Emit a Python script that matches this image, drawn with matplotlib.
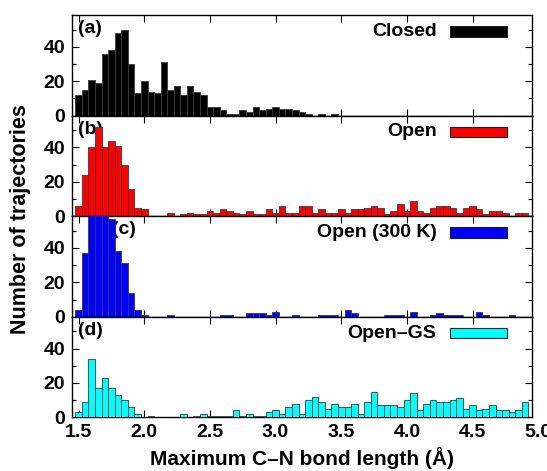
import numpy as np
import matplotlib
matplotlib.use("Agg")
import matplotlib.pyplot as plt
from matplotlib.patches import Rectangle
from matplotlib.transforms import offset_copy

plt.rcParams['font.family'] = ['Liberation Sans', 'DejaVu Sans']
plt.rcParams['font.weight'] = 'bold'

# bin centres (Å), bin width 0.05
bins = np.linspace(1.50, 4.90, 69)
width = 0.05

closed = [12, 15, 21, 19, 36, 38, 48, 50, 30, 13, 20, 14, 13, 31, 15, 17, 12, 17, 14, 12,
          5, 5, 3, 1, 1, 3, 2, 5, 3, 4, 5, 4, 4, 3, 2, 1, 0, 1, 0, 1,
          0, 0, 0, 0, 0, 0, 0, 0, 0, 0, 0, 0, 0, 0, 0, 0, 0, 0, 0, 0,
          0, 0, 0, 0, 0, 0, 0, 0, 0]
open_ = [6, 24, 40, 52, 40, 44, 41, 30, 16, 5, 4, 0, 0, 0, 2, 0, 1, 2, 1, 1,
         3, 2, 4, 3, 2, 1, 3, 1, 1, 4, 2, 6, 2, 2, 6, 6, 2, 4, 2, 2,
         4, 2, 4, 4, 5, 6, 5, 1, 3, 7, 3, 9, 3, 2, 5, 6, 6, 5, 2, 5,
         6, 4, 1, 3, 3, 2, 0, 2, 2]
open_300k = [4, 37, 65, 70, 62, 57, 38, 31, 14, 4, 1, 0, 0, 0, 1, 0, 0, 0, 0, 0,
             0, 0, 1, 1, 0, 0, 2, 2, 2, 1, 3, 0, 0, 1, 0, 0, 0, 1, 1, 1,
             0, 4, 2, 0, 0, 0, 0, 1, 1, 1, 0, 3, 0, 0, 1, 2, 1, 1, 1, 0,
             0, 3, 1, 0, 0, 0, 1, 0, 0]
open_gs = [3, 9, 34, 17, 23, 17, 13, 10, 6, 2, 0, 1, 0, 0, 0, 0, 2, 0, 1, 2,
           1, 1, 1, 1, 4, 1, 2, 1, 1, 3, 4, 2, 6, 8, 2, 10, 12, 9, 5, 8,
           6, 6, 8, 2, 9, 15, 7, 7, 7, 6, 10, 14, 4, 8, 10, 9, 9, 10, 11, 5,
           7, 4, 5, 7, 4, 4, 3, 4, 9]

series = [closed, open_, open_300k, open_gs]
names = ['Closed', 'Open', 'Open (300 K)', 'Open\u2013GS']
panel_labels = ['(a)', '(b)', '(c)', '(d)']
colors = ['#000000', '#ff0000', '#0000ff', '#00ffff']
label_x = [0.012, 0.012, 0.086, 0.012]

fig = plt.figure(figsize=(5.47, 4.71), dpi=100)
axes = fig.subplots(4, 1, sharex=True, gridspec_kw=dict(hspace=0))
fig.subplots_adjust(left=0.1316, right=0.972, bottom=0.114, top=0.968)

for ax, vals, name, lab, col, lx in zip(axes, series, names, panel_labels, colors, label_x):
    ax.bar(bins, vals, width=width, color=col, edgecolor='#3a3a3a', linewidth=0.6, zorder=3)
    ax.set_xlim(1.45, 4.95)
    ax.set_ylim(0, 58.5)
    ax.set_yticks([0, 20, 40])
    ax.set_yticks([10, 30, 50], minor=True)
    ax.set_xticks([1.5, 2.0, 2.5, 3.0, 3.5, 4.0, 4.5])
    ax.tick_params(which='both', direction='in', top=True, right=True, labelsize=14, pad=5)
    ax.tick_params(which='major', length=5, width=0.8)
    ax.tick_params(which='minor', length=3, width=0.8)
    for s in ax.spines.values():
        s.set_linewidth(1.0)
    ax.text(lx, 0.95, lab, transform=ax.transAxes, ha='left', va='top',
            fontsize=14, fontweight='bold', zorder=1)
    ax.text(0.793, 0.838, name, transform=ax.transAxes, ha='right', va='center',
            fontsize=14, fontweight='bold')
    ax.add_patch(Rectangle((0.822, 0.785), 0.124, 0.105, transform=ax.transAxes,
                           facecolor=col, edgecolor='#202020', linewidth=0.8))

axb = axes[-1]
axb.tick_params(axis='x', pad=5)
axb.set_xticklabels(['1.5', '2.0', '2.5', '3.0', '3.5', '4.0', '4.5'], fontweight='bold')
tr = offset_copy(axb.get_xaxis_transform(), fig=fig, y=-5, units='points')
axb.text(5.0, 0, '5.0', transform=tr, ha='center', va='top', fontsize=14,
         fontweight='bold', clip_on=False)
axb.set_xlabel('Maximum C\u2013N bond length (\u00c5)', fontsize=15, fontweight='bold', labelpad=4)
fig.text(0.038, 0.535, 'Number of trajectories', rotation=90, ha='center', va='center',
         fontsize=15.5, fontweight='bold')

fig.savefig('out.png', dpi=100)
